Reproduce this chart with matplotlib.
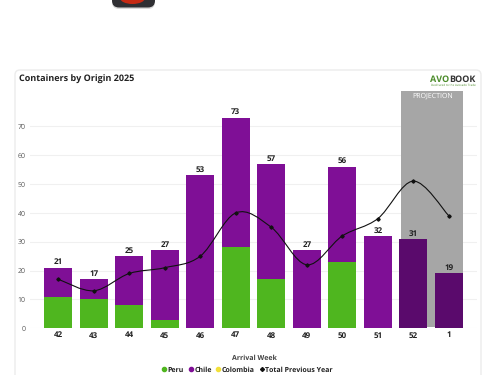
import matplotlib
matplotlib.use('Agg')
from matplotlib import pyplot as plt
from matplotlib.lines import Line2D
from matplotlib.patches import Ellipse, FancyBboxPatch, PathPatch
from matplotlib.path import Path

plt.rcParams['font.family'] = ['Open Sans', 'DejaVu Sans']
plt.rcParams['text.hinting'] = 'no_hinting'
plt.rcParams['text.hinting_factor'] = 1

# Values
weeks = ['42', '43', '44', '45', '46', '47', '48', '49', '50', '51', '52', '1']
peru = [11, 10, 8, 3, 0, 28, 17, 0, 23, 0, 0, 0]
chile = [10, 7, 17, 24, 53, 45, 40, 27, 33, 32, 31, 19]
totals = [21, 17, 25, 27, 53, 73, 57, 27, 56, 32, 31, 19]
previous_year = [17, 13, 19, 21, 25, 40, 35, 22, 32, 38, 51, 39]
y_ticks = [0, 10, 20, 30, 40, 50, 60, 70]
projected = [10, 11]

GREEN = '#4fb61f'
PURPLE = '#7f0f96'
DARK_PURPLE = '#5a0a6c'
TEXT = '#222222'

W, H = 500, 375
fig = plt.figure(figsize=(5, 3.75), dpi=100, facecolor='white')

# Background layer in pixel coordinates (card, icon, logo)
bg = fig.add_axes([0, 0, 1, 1])
bg.set_xlim(0, W)
bg.set_ylim(H, 0)
bg.axis('off')
bg.add_patch(FancyBboxPatch((15, 70), 466, 330, boxstyle='round,pad=0,rounding_size=5',
                            fc='white', ec='#ececec', lw=1))
bg.add_patch(FancyBboxPatch((112, -14), 43, 23, boxstyle='round,pad=0,rounding_size=7',
                            fc='#d8d8d8', ec='none'))
bg.add_patch(FancyBboxPatch((112, -14), 43, 21.5, boxstyle='round,pad=0,rounding_size=7',
                            fc='#2f2f33', ec='none'))
bg.add_patch(Ellipse((132.5, -2), 25, 12, fc='#c62a14', ec='none'))
bg.text(19, 80, 'Containers by Origin 2025', fontsize=6.6, fontweight='bold',
        color=TEXT, va='center', ha='left')
bg.text(449.5, 79.5, 'AVO', fontsize=6.4, fontweight='bold', color='#4c8c2b', va='center', ha='right')
bg.text(449.5, 79.5, 'BOOK', fontsize=6.4, fontweight='bold', color='#333333', va='center', ha='left')
bg.text(453, 84.8, 'Dedicated to the Avocado Trade', fontsize=2, color='#4c8c2b',
        va='center', ha='center')
bg.text(254, 357.7, 'Arrival Week', fontsize=5.2, fontweight='bold', color='#444444',
        va='center', ha='center')

# Chart axes: x index 0 sits at 58.3 px, 35.5 px per week, 2.886 px per container
left, right, top, bottom = 30, 477, 84, 328.3
ax = fig.add_axes([left / W, 1 - bottom / H, (right - left) / W, (bottom - top) / H])
ax.patch.set_alpha(0)
ax.set_xlim((left - 58.3) / 35.5, (right - 58.3) / 35.5)
ax.set_ylim(0, (bottom - top) / 2.886)

ax.yaxis.grid(True, color='#f0f0f0', lw=0.8)
ax.set_axisbelow(True)
for spine in ax.spines.values():
    spine.set_visible(False)
ax.tick_params(length=0)
ax.set_yticks(y_ticks)
ax.tick_params(axis='y', labelsize=5.4, labelcolor='#555555', pad=3)
xs = list(range(len(weeks)))
ax.set_xticks(xs)
ax.set_xticklabels(weeks, fontsize=5.6, fontweight='bold', color=TEXT)
ax.tick_params(axis='x', pad=2.2)

# Projection band behind the last two weeks
ax.axvspan(9.64, 11.41, ymin=0.006, ymax=(bottom - 90.7) / (bottom - top),
           fc='#a6a6a6', ec='none', zorder=1)
ax.text(10.535, 80.6, 'PROJECTION', fontsize=5, color='white', ha='center', va='center', zorder=2)

chile_colors = [DARK_PURPLE if i in projected else PURPLE for i in xs]
ax.bar(xs, peru, width=0.79, color=GREEN, zorder=3)
ax.bar(xs, chile, width=0.79, bottom=peru, color=chile_colors, zorder=3)

for x, total in zip(xs, totals):
    ax.text(x, total + 0.5, str(total), fontsize=5.6, fontweight='bold', color=TEXT,
            ha='center', va='bottom', zorder=5)

# Smooth previous-year line: bezier segments through the points
verts = [(xs[0], previous_year[0])]
codes = [Path.MOVETO]
n = len(xs)
for i in range(n - 1):
    p0 = (xs[max(i - 1, 0)], previous_year[max(i - 1, 0)])
    p1 = (xs[i], previous_year[i])
    p2 = (xs[i + 1], previous_year[i + 1])
    p3 = (xs[min(i + 2, n - 1)], previous_year[min(i + 2, n - 1)])
    verts.append((p1[0] + (p2[0] - p0[0]) / 6, p1[1] + (p2[1] - p0[1]) / 6))
    verts.append((p2[0] - (p3[0] - p1[0]) / 6, p2[1] - (p3[1] - p1[1]) / 6))
    verts.append(p2)
    codes += [Path.CURVE4, Path.CURVE4, Path.CURVE4]
ax.add_patch(PathPatch(Path(verts, codes), fc='none', ec='#111111', lw=0.8, zorder=4))
ax.plot(xs, previous_year, ls='none', marker='D', ms=1.7, color='#111111', zorder=4)

# Legend
handles = [
    Line2D([], [], ls='none', marker='o', ms=3, color=GREEN, label='Peru'),
    Line2D([], [], ls='none', marker='o', ms=3, color=PURPLE, label='Chile'),
    Line2D([], [], ls='none', marker='o', ms=3, color='#f2e03a', label='Colombia'),
    Line2D([], [], ls='none', marker='D', ms=2, color='#111111', label='Total Previous Year'),
]
fig.legend(handles=handles, loc='center', bbox_to_anchor=(246.5 / W, 1 - 370 / H), ncol=4,
           frameon=False, handletextpad=0, columnspacing=0.4, handlelength=1,
           prop={'size': 5.3, 'weight': 'bold'}, labelcolor=TEXT)

fig.savefig('out.png', dpi=100)
